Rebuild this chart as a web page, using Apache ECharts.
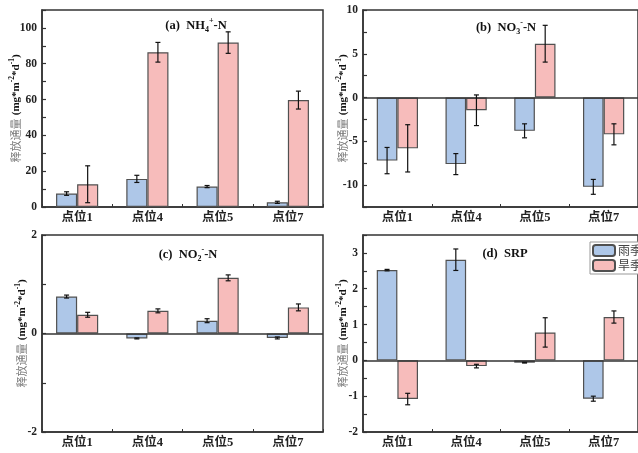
<!DOCTYPE html>
<html><head><meta charset="utf-8">
<script src="https://cdn.jsdelivr.net/npm/echarts@6/dist/echarts.min.js"></script>
<style>html,body{margin:0;padding:0;background:#fff}#c{width:638px;height:453px}</style>
</head><body><div id="c"></div>
<script>
const categories = ['点位1', '点位4', '点位5', '点位7'];
const seriesNames = ['雨季', '旱季'];

const nh4Rain = [7.5, 15.7, 11.4, 2.6];
const nh4RainErr = [1.0, 2.0, 0.6, 0.6];
const nh4Dry = [12.7, 86.4, 91.8, 59.7];
const nh4DryErr = [10.3, 5.5, 6.0, 5.0];

const no3Rain = [-7.2, -7.6, -3.8, -10.2];
const no3RainErr = [1.5, 1.2, 0.8, 0.85];
const no3Dry = [-5.8, -1.45, 6.15, -4.2];
const no3DryErr = [2.7, 1.75, 2.1, 1.2];

const no2Rain = [0.75, -0.1, 0.26, -0.09];
const no2RainErr = [0.03, 0.01, 0.04, 0.02];
const no2Dry = [0.38, 0.46, 1.13, 0.53];
const no2DryErr = [0.05, 0.04, 0.06, 0.07];

const srpRain = [2.52, 2.81, -0.065, -1.07];
const srpRainErr = [0.02, 0.3, 0.01, 0.07];
const srpDry = [-1.08, -0.16, 0.78, 1.21];
const srpDryErr = [0.16, 0.05, 0.41, 0.17];

const panels = [
  {title: '{t|(a)  NH}{sub|4}{sup|+}{t|-N}', rain: nh4Rain, rainErr: nh4RainErr, dry: nh4Dry, dryErr: nh4DryErr,
   min: 0, max: 110, interval: 10, major: 20, zero: false, nameGap: 18, grid: {left: 42, top: 10, width: 281, height: 197}, tx: 191, ty: 12},
  {title: '{t|(b)  NO}{sub|3}{sup|-}{t|-N}', rain: no3Rain, rainErr: no3RainErr, dry: no3Dry, dryErr: no3DryErr,
   min: -12.5, max: 10, interval: 2.5, major: 5, zero: true, nameGap: 12, grid: {left: 363, top: 10, width: 282, height: 197}, tx: 501, ty: 14},
  {title: '{t|(c)  NO}{sub|2}{sup|-}{t|-N}', rain: no2Rain, rainErr: no2RainErr, dry: no2Dry, dryErr: no2DryErr,
   min: -2, max: 2, interval: 1, major: 2, zero: true, nameGap: 12, grid: {left: 42, top: 235, width: 281, height: 197}, tx: 183, ty: 241},
  {title: '{t|(d)  SRP}', rain: srpRain, rainErr: srpRainErr, dry: srpDry, dryErr: srpDryErr,
   min: -2, max: 3.5, interval: 0.5, major: 1, zero: true, nameGap: 12, grid: {left: 363, top: 235, width: 282, height: 197}, tx: 500, ty: 243}
];

const SERIF = '"Liberation Serif", "Times New Roman", "Noto Sans CJK SC", serif';
const AX = '#333';
const colors = ['#aec7e8', '#f7bcbb'];

const titleRich = {
  t: {fontFamily: SERIF, fontWeight: 'bold', fontSize: 12.5, color: '#111'},
  sub: {fontFamily: SERIF, fontWeight: 'bold', fontSize: 8, color: '#111', padding: [8, 0, 0, 0]},
  sup: {fontFamily: SERIF, fontWeight: 'bold', fontSize: 8, color: '#111', padding: [0, 0, 9, 0]}
};
const nameRich = {
  g: {fontFamily: '"Noto Sans CJK SC", sans-serif', fontSize: 11, color: '#7a7a7a'},
  b: {fontFamily: SERIF, fontWeight: 'bold', fontSize: 11, color: '#111'},
  sup: {fontFamily: SERIF, fontWeight: 'bold', fontSize: 7.5, color: '#111', padding: [0, 0, 8, 0]}
};

function errRender(side) {
  return function (params, api) {
    const x = api.value(0), lo = api.value(1), hi = api.value(2);
    const band = api.size([1, 0])[0];
    const off = side * band * 0.15;
    const p1 = api.coord([x, lo]);
    const p2 = api.coord([x, hi]);
    const cx = p1[0] + off;
    const w = 2.5;
    const st = {stroke: '#111', lineWidth: 1.2};
    return {type: 'group', children: [
      {type: 'line', shape: {x1: cx, y1: p1[1], x2: cx, y2: p2[1]}, style: st},
      {type: 'line', shape: {x1: cx - w, y1: p1[1], x2: cx + w, y2: p1[1]}, style: st},
      {type: 'line', shape: {x1: cx - w, y1: p2[1], x2: cx + w, y2: p2[1]}, style: st}
    ]};
  };
}

const option = {
  animation: false,
  backgroundColor: '#fff',
  title: [], grid: [], xAxis: [], yAxis: [], series: [],
  legend: {
    data: seriesNames, left: 590, top: 242, orient: 'vertical',
    itemWidth: 22, itemHeight: 11, itemGap: 2, padding: [2, 2, 2, 2],
    borderColor: '#999', borderWidth: 1, backgroundColor: '#fff',
    textStyle: {fontFamily: '"Noto Sans CJK SC", sans-serif', fontSize: 12, color: '#444', padding: [0, 0, 0, -2]}
  }
};

panels.forEach((p, i) => {
  option.title.push({text: p.title, left: p.tx, top: p.ty, textAlign: 'center',
    textStyle: {rich: titleRich}});
  option.grid.push(Object.assign({show: true, borderColor: AX, borderWidth: 1.5, backgroundColor: 'transparent'}, p.grid));
  option.xAxis.push({
    type: 'category', gridIndex: i, data: categories, position: 'bottom',
    axisLine: {onZero: false, lineStyle: {color: AX, width: 1.5}},
    axisTick: {alignWithLabel: true, length: 4, lineStyle: {color: AX, width: 1.2}},
    axisLabel: {margin: 5, fontFamily: SERIF, fontWeight: 'bold', fontSize: 12.5, color: '#222'}
  });
  option.xAxis.push({
    type: 'category', gridIndex: i, data: categories, position: 'bottom',
    axisLine: {show: false, onZero: false},
    axisTick: {show: true, inside: true, length: 3, lineStyle: {color: AX, width: 1}},
    axisLabel: {show: false}
  });
  const major = p.major;
  option.yAxis.push({
    type: 'value', gridIndex: i, min: p.min, max: p.max, interval: p.interval,
    splitLine: {show: false},
    axisLine: {show: true, lineStyle: {color: AX, width: 1.5}},
    axisTick: {show: true, inside: true, length: 4, lineStyle: {color: AX, width: 1.2}},
    axisLabel: {
      margin: 5, fontFamily: SERIF, fontWeight: 'bold', fontSize: 11.5, color: '#222',
      formatter: function (v) {
        const r = v / major;
        if (Math.abs(r - Math.round(r)) > 1e-6) return '';
        if (v > p.max - 1e-9 && p.max % major !== 0) return '';
        return String(Math.round(v * 1000) / 1000);
      }
    },
    name: '{g|释放通量} {b|(mg*m}{sup|-2}{b|*d}{sup|-1}{b|)}',
    nameLocation: 'middle', nameRotate: 90, nameGap: p.nameGap, nameMoveOverlap: false,
    nameTextStyle: {rich: nameRich}
  });
  const xi = i * 2;
  option.series.push({
    name: seriesNames[0], type: 'bar', xAxisIndex: xi, yAxisIndex: i, data: p.rain,
    barWidth: '30%', barGap: '0%',
    itemStyle: {color: colors[0], borderColor: '#505050', borderWidth: 1.2}
  });
  option.series.push({
    name: seriesNames[1], type: 'bar', xAxisIndex: xi, yAxisIndex: i, data: p.dry,
    barWidth: '30%', barGap: '0%',
    itemStyle: {color: colors[1], borderColor: '#505050', borderWidth: 1.2}
  });
  const eRain = p.rain.map((v, k) => [k, v - p.rainErr[k], v + p.rainErr[k]]);
  const eDry = p.dry.map((v, k) => [k, v - p.dryErr[k], v + p.dryErr[k]]);
  const s1 = {type: 'custom', name: 'errRain' + i, xAxisIndex: xi, yAxisIndex: i, data: eRain, z: 10,
    renderItem: errRender(-1), encode: {x: 0, y: [1, 2]}, silent: true};
  if (p.zero) {
    s1.markLine = {silent: true, symbol: 'none', label: {show: false},
      lineStyle: {color: AX, width: 1.5, type: 'solid'}, data: [{yAxis: 0}]};
  }
  option.series.push(s1);
  option.series.push({type: 'custom', name: 'errDry' + i, xAxisIndex: xi, yAxisIndex: i, data: eDry, z: 10,
    renderItem: errRender(1), encode: {x: 0, y: [1, 2]}, silent: true});
});

const chart = echarts.init(document.getElementById('c'), null, {renderer: 'canvas'});
chart.setOption(option);
</script>
</body></html>
